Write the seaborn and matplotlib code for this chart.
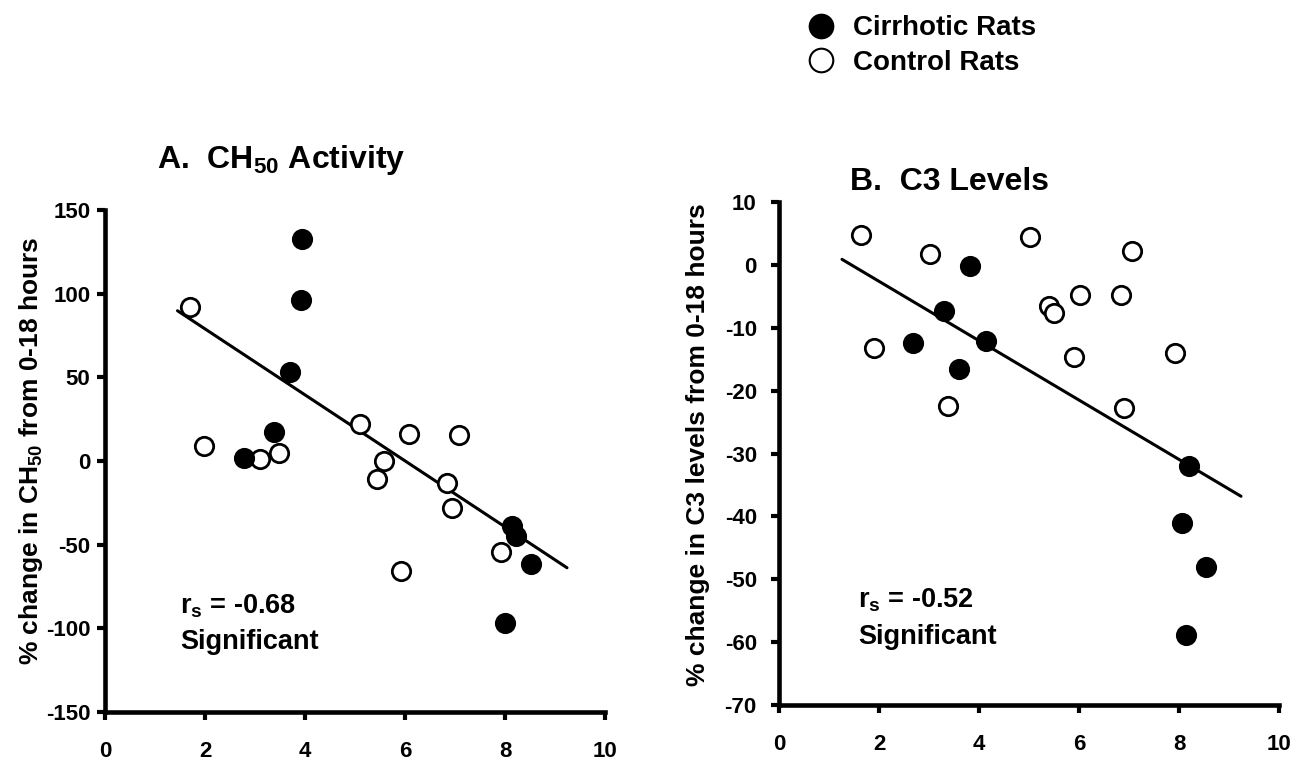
import numpy as np
import pandas as pd
import matplotlib
matplotlib.use("Agg")
import matplotlib.pyplot as plt
from matplotlib.lines import Line2D
import seaborn as sns

# ---------------- data ----------------
# Panel A: CH50 activity
a_cirr_x = [2.77, 3.38, 3.69, 3.91, 3.93, 7.99, 8.13, 8.22, 8.51]
a_cirr_y = [2.0, 17.5, 53.2, 96.4, 132.5, -96.8, -39.1, -45.1, -61.5]
a_ctrl_x = [1.70, 1.98, 3.09, 3.48, 5.09, 5.44, 5.58, 5.92, 6.08, 6.83, 6.93, 7.07, 7.92]
a_ctrl_y = [91.9, 9.0, 1.4, 4.6, 22.1, -10.5, 0.0, -65.8, 16.0, -13.4, -27.9, 15.4, -54.5]
a_fit_x = [1.45, 9.24]
a_fit_y = [89.8, -63.8]

# Panel B: C3 levels
b_cirr_x = [2.68, 3.30, 3.59, 3.81, 4.14, 8.05, 8.13, 8.20, 8.54]
b_cirr_y = [-12.4, -7.35, -16.5, -0.13, -12.1, -41.05, -58.8, -32.0, -48.05]
b_ctrl_x = [1.63, 1.89, 3.02, 3.37, 5.02, 5.40, 5.49, 5.89, 6.02, 6.83, 6.90, 7.05, 7.92]
b_ctrl_y = [4.8, -13.2, 1.67, -22.4, 4.43, -6.55, -7.67, -14.7, -4.75, -4.75, -22.8, 2.25, -14.0]
b_fit_x = [1.26, 9.24]
b_fit_y = [0.88, -36.8]

x_ticks = [0, 2, 4, 6, 8, 10]
a_y_ticks = [-150, -100, -50, 0, 50, 100, 150]
b_y_ticks = [-70, -60, -50, -40, -30, -20, -10, 0, 10]

a_title = "A.  CH$_{50}$ Activity"
b_title = "B.  C3 Levels"
a_ylabel = "% change in CH$_{50}$ from 0-18 hours"
b_ylabel = "% change in C3 levels from 0-18 hours"
a_stat = ["r$_{s}$ = -0.68", "Significant"]
b_stat = ["r$_{s}$ = -0.52", "Significant"]
legend_labels = ["Cirrhotic Rats", "Control Rats"]

# ---------------- style ----------------
sns.set_theme(style="white")
plt.rcParams["font.family"] = ["Liberation Sans", "DejaVu Sans"]
plt.rcParams["font.weight"] = "bold"
plt.rcParams["text.color"] = "black"
plt.rcParams["axes.labelcolor"] = "black"
plt.rcParams["xtick.color"] = "black"
plt.rcParams["ytick.color"] = "black"
plt.rcParams["axes.unicode_minus"] = False
plt.rcParams["mathtext.fontset"] = "custom"
plt.rcParams["mathtext.rm"] = "Liberation Sans:bold"
plt.rcParams["mathtext.it"] = "Liberation Sans:bold"
plt.rcParams["mathtext.bf"] = "Liberation Sans:bold"
plt.rcParams["mathtext.default"] = "regular"

W, H = 1292, 764
fig = plt.figure(figsize=(W / 100, H / 100), dpi=100)
fig.patch.set_facecolor("white")


def px_rect(left, right, top, bottom):
    return [left / W, 1 - bottom / H, (right - left) / W, (bottom - top) / H]


axA = fig.add_axes(px_rect(105, 605, 210, 712))
axB = fig.add_axes(px_rect(779, 1279, 202, 705))

MS = 175
EW = 2.0
TICK_FS = 16


def draw(ax, cx, cy, ox, oy, fx, fy, yticks, ylim, stat, stat_x, stat_y, ypad):
    dfc = pd.DataFrame({"x": cx, "y": cy})
    dfo = pd.DataFrame({"x": ox, "y": oy})
    sns.scatterplot(data=dfo, x="x", y="y", ax=ax, s=MS, marker="o",
                    facecolor="white", edgecolor="black", linewidth=EW,
                    zorder=3, clip_on=False, legend=False)
    sns.scatterplot(data=dfc, x="x", y="y", ax=ax, s=MS, marker="o",
                    color="black", edgecolor="black", linewidth=EW,
                    zorder=4, clip_on=False, legend=False)
    sns.lineplot(x=fx, y=fy, ax=ax, color="black", linewidth=2.2, zorder=2)
    ax.set_xlim(0, 10)
    ax.set_ylim(*ylim)
    ax.set_xticks(x_ticks)
    ax.set_yticks(yticks)
    ax.set_xticklabels([str(t) for t in x_ticks], fontsize=TICK_FS, fontweight="bold")
    ax.set_yticklabels([str(t) for t in yticks], fontsize=TICK_FS, fontweight="bold")
    ax.set_xlabel("")
    ax.set_ylabel("")
    sns.despine(ax=ax)
    for s in ["left", "bottom"]:
        ax.spines[s].set_linewidth(3.3)
        ax.spines[s].set_color("black")
    ax.tick_params(axis="both", direction="out", length=6, width=3,
                   colors="black", bottom=True, left=True)
    ax.tick_params(axis="x", pad=15)
    ax.tick_params(axis="y", pad=ypad)
    ax.set_facecolor("white")
    ax.text(stat_x, stat_y[0], stat[0], fontsize=19.5, fontweight="bold",
            ha="left", va="center", color="black")
    ax.text(stat_x, stat_y[1], stat[1], fontsize=19.5, fontweight="bold",
            ha="left", va="center", color="black")


draw(axA, a_cirr_x, a_cirr_y, a_ctrl_x, a_ctrl_y, a_fit_x, a_fit_y,
     a_y_ticks, (-150, 150), a_stat, 1.50, (-86.6, -108.3), 4.5)
draw(axB, b_cirr_x, b_cirr_y, b_ctrl_x, b_ctrl_y, b_fit_x, b_fit_y,
     b_y_ticks, (-70, 10), b_stat, 1.59, (-53.4, -59.2), 10)

# titles
fig.text(157 / W, 1 - 160 / H, a_title, fontsize=23, fontweight="bold",
         ha="left", va="center", color="black")
fig.text(850 / W, 1 - 182 / H, b_title, fontsize=23, fontweight="bold",
         ha="left", va="center", color="black")

# y labels
fig.text(31 / W, 1 - 451 / H, a_ylabel, fontsize=19, fontweight="bold",
         rotation=90, ha="center", va="center", color="black")
fig.text(698 / W, 1 - 445 / H, b_ylabel, fontsize=19, fontweight="bold",
         rotation=90, ha="center", va="center", color="black")

# legend
handles = [
    Line2D([], [], linestyle="none", marker="o", markersize=17,
           markerfacecolor="black", markeredgecolor="black", markeredgewidth=1.5),
    Line2D([], [], linestyle="none", marker="o", markersize=17,
           markerfacecolor="white", markeredgecolor="black", markeredgewidth=1.5),
]
leg = fig.legend(handles, legend_labels, loc="upper left",
                 bbox_to_anchor=(785 / W, 1 + 4 / H), frameon=False,
                 prop={"size": 20, "weight": "bold"}, handletextpad=0.55,
                 labelspacing=0.3, handlelength=1.2, borderpad=0.2)
for t in leg.get_texts():
    t.set_color("black")

fig.savefig("out.png", dpi=100, facecolor="white")
